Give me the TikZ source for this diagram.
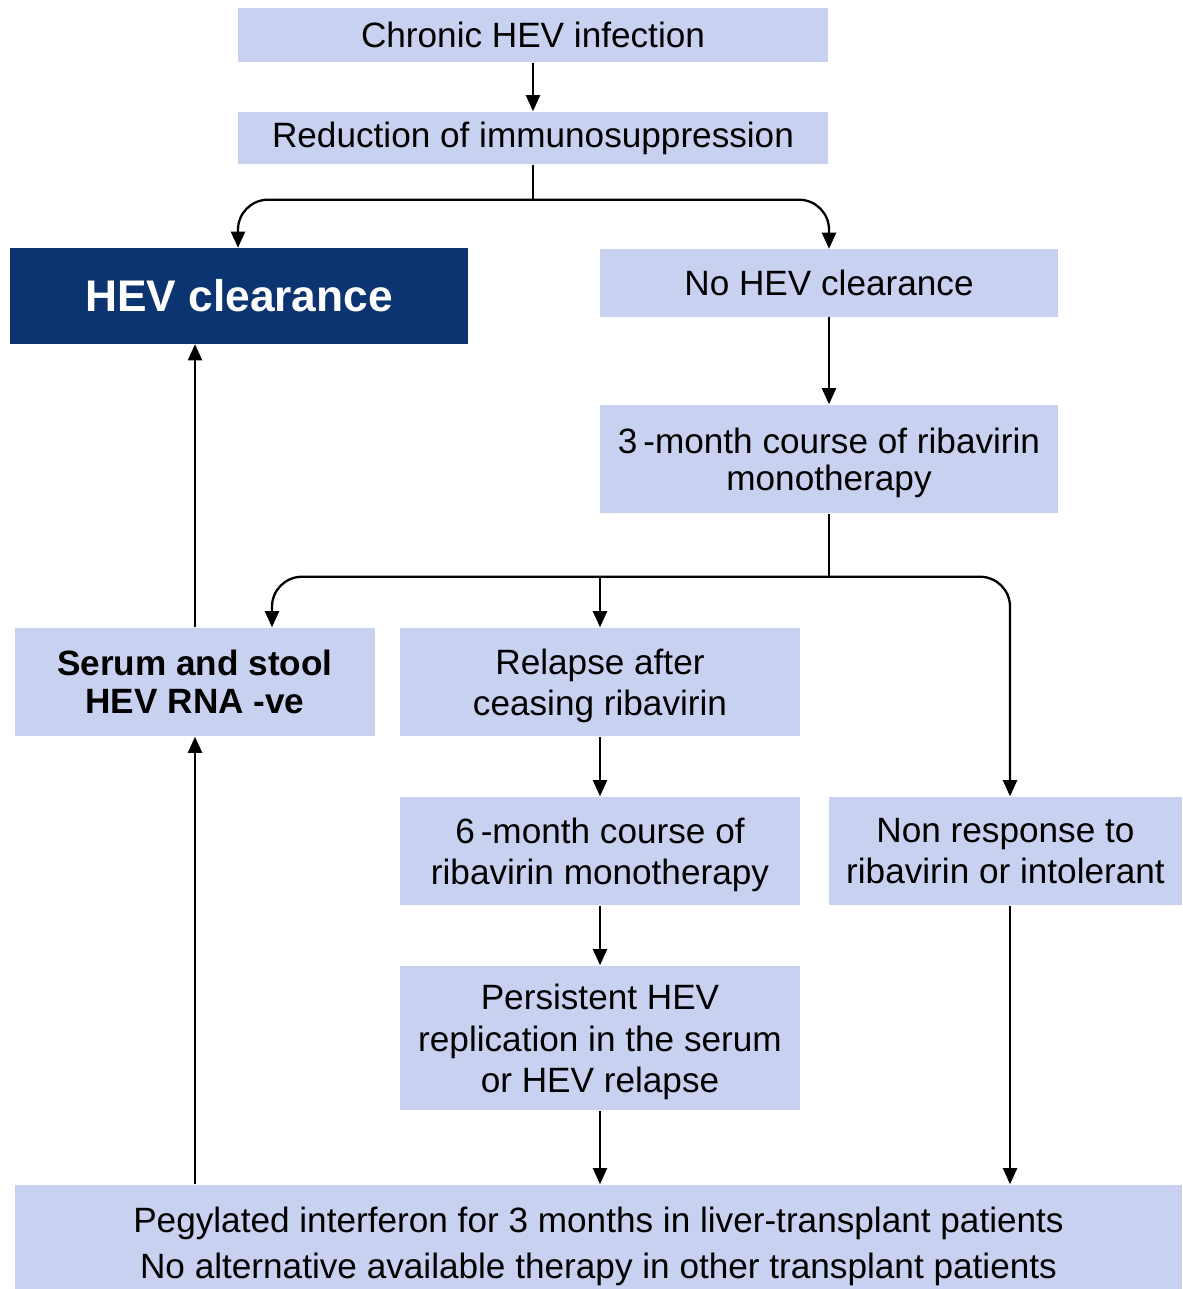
\documentclass[tikz,border=0pt]{standalone}
\usepackage{fontspec}
\setmainfont{Liberation Sans}
\usetikzlibrary{arrows.meta}
\definecolor{boxblue}{RGB}{200,210,240}
\definecolor{navy}{RGB}{11,52,112}
\tikzset{
  stepbox/.style={fill=boxblue, align=center, inner sep=0pt,
    font=\fontsize{10}{11.7}\selectfont},
  darkbox/.style={fill=navy, text=white, align=center, inner sep=0pt,
    font=\fontsize{12.6}{14}\selectfont\bfseries},
  flow/.style={-{Triangle[length=4.6pt,width=4pt]}, line width=0.65pt},
  split/.style={flow, rounded corners=0.3cm}
}
\begin{document}
\begin{tikzpicture}[x=0.01cm,y=-0.01cm]
\useasboundingbox (0,0) rectangle (1182,1289);
% boxes
\node[stepbox,minimum width=5.9cm,minimum height=0.54cm] (chronic) at (533,35) {Chronic HEV infection};
\node[stepbox,minimum width=5.9cm,minimum height=0.52cm] (reduce) at (533,138) {Reduction of immunosuppression};
\node[darkbox,minimum width=4.58cm,minimum height=0.95cm] (clear) at (239,296) {HEV clearance};
\node[stepbox,minimum width=4.58cm,minimum height=0.67cm] (noclear) at (829,283) {No HEV clearance};
\node[stepbox,minimum width=4.58cm,minimum height=1.08cm,font=\fontsize{10}{10.4}\selectfont] (threem) at (829,459) {\rule{0pt}{9.5pt}3\,-month course of ribavirin\\monotherapy};
\node[stepbox,minimum width=3.6cm,minimum height=1.08cm,font=\fontsize{10}{10.8}\selectfont\bfseries] (serum) at (195,682) {Serum and stool\\HEV RNA -ve};
\node[stepbox,minimum width=4cm,minimum height=1.08cm] (relapse) at (600,682) {\rule{0pt}{9.5pt}Relapse after\\ceasing ribavirin};
\node[stepbox,minimum width=4cm,minimum height=1.08cm] (sixm) at (600,851) {\rule{0pt}{9.5pt}6\,-month course of\\ribavirin monotherapy};
\node[stepbox,minimum width=3.53cm,minimum height=1.08cm] (nonresp) at (1005.5,851) {Non response to\\ribavirin or intolerant};
\node[stepbox,minimum width=4cm,minimum height=1.44cm] (persist) at (600,1038) {\rule{0pt}{9.5pt}Persistent HEV\\replication in the serum\\or HEV relapse};
\node[stepbox,minimum width=11.67cm,minimum height=1.04cm,font=\fontsize{10}{13}\selectfont] (peg) at (598.5,1237) {\rule{0pt}{12.5pt}Pegylated interferon for 3 months in liver-transplant patients\\No alternative available therapy in other transplant patients};

% connectors
\draw[flow] (chronic) -- (reduce);
\draw[line width=0.65pt] (reduce.south) -- ++(0,35) coordinate (fork1);
\draw[split] (fork1) -| (clear.north -| 238,0);
\draw[split] (fork1) -| (noclear.north);
\draw[flow] (noclear) -- (threem);
\draw[line width=0.65pt] (threem.south) -- ++(0,63) coordinate (fork2);
\draw[split] (fork2) -| (serum.north -| 272,0);
\draw[flow] (fork2 -| relapse.north) -- (relapse.north);
\draw[split] (fork2) -| (nonresp.north -| 1010,0);
\draw[flow] (relapse) -- (sixm);
\draw[flow] (sixm) -- (persist);
\draw[flow] (persist) -- (peg.north -| persist.south);
\draw[flow] (nonresp.south -| 1010,0) -- (peg.north -| 1010,0);
\draw[flow] (peg.north -| serum.south) -- (serum.south);
\draw[flow] (serum.north -| 195,0) -- (clear.south -| 195,0);
\end{tikzpicture}
\end{document}
